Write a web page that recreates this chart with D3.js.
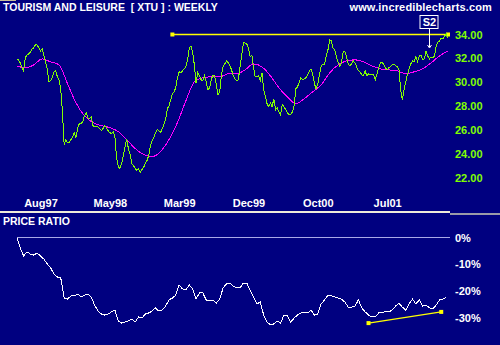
<!DOCTYPE html>
<html>
<head>
<meta charset="utf-8">
<script src="https://cdnjs.cloudflare.com/ajax/libs/d3/7.8.5/d3.min.js"></script>
<style>
body{margin:0;background:#000080;}
svg text{font-family:"Liberation Sans",Arial,sans-serif;font-weight:bold;}
</style>
</head>
<body>
<div id="chart"></div>
<script>
// weekly closes, first week is 9 May 1997
var startDate = new Date(1997, 4, 9);

var price = [
31.88,31.88,31.63,31.21,30.96,32.04,32.29,32.38,32.54,32.79,
32.88,33.13,33.13,32.88,32.63,32.79,32.29,31.71,31.13,30.04,
30.13,30.38,30.88,30.96,30.46,30.21,29.38,27.54,24.79,25.21,
24.96,24.96,25.21,25.46,25.79,25.38,26.21,26.54,26.54,26.71,
27.21,27.46,27.04,26.96,27.13,26.38,26.29,26.29,26.29,26.13,
25.96,26.13,26.38,26.21,25.96,25.79,25.71,25.88,25.46,23.71,
22.96,22.79,23.21,23.88,24.63,25.21,24.46,23.96,23.21,23.04,
22.79,22.63,22.79,22.46,22.71,22.88,23.21,23.46,23.88,24.71,
25.13,25.38,25.79,26.04,25.96,25.79,26.13,26.46,26.88,27.79,
28.04,28.54,29.04,29.21,29.54,30.38,30.88,30.79,30.96,31.13,
31.29,31.88,32.88,33.04,32.46,31.46,29.96,30.79,30.54,30.21,
30.13,30.54,30.04,29.38,29.54,30.21,30.63,30.54,29.79,28.96,
29.21,30.63,31.29,31.54,31.79,31.63,31.38,31.04,30.54,30.29,
30.13,30.21,31.29,32.29,33.29,33.29,33.21,32.88,32.13,32.29,
31.21,30.46,30.46,30.54,30.13,30.79,29.38,28.79,28.21,27.96,
28.29,27.96,28.63,27.71,27.88,27.54,27.29,28.13,27.96,27.71,
27.46,27.29,27.29,27.54,28.04,29.46,29.63,29.96,30.38,30.21,
30.29,30.38,30.63,30.96,31.13,30.71,29.88,29.46,29.88,30.63,
31.38,31.54,31.46,32.21,32.71,33.54,33.46,32.88,32.71,32.13,
31.71,31.38,31.63,32.54,32.54,32.13,31.54,31.38,31.54,31.79,
31.63,31.29,30.96,30.88,30.63,30.54,30.96,30.54,30.71,30.63,
30.63,30.63,30.21,30.71,31.21,31.63,31.71,31.46,31.21,31.04,
31.21,31.29,31.46,31.54,31.38,31.29,31.04,29.38,28.54,29.38,
30.04,30.63,31.13,31.54,31.79,31.71,32.13,31.71,32.21,32.29,
31.88,31.96,32.63,32.21,31.96,32.13,32.04,32.21,33.04,33.38,
33.46,33.71,33.63,33.88,34.04,33.71
];

// moving average (magenta), read every 5 weeks
var maStep = 5;
var priceMA = [
31.38,31.21,31.46,31.96,31.71,31.46,29.88,28.29,27.21,26.63,
26.38,26.21,25.88,25.21,24.46,23.96,23.79,24.21,25.21,26.63,
28.46,30.04,30.38,30.46,30.46,30.71,30.71,31.04,31.54,31.29,
30.54,29.54,28.79,28.21,28.63,29.21,29.79,30.79,31.46,31.79,
31.88,31.71,31.38,31.13,31.04,30.96,30.71,30.88,31.13,31.63,
32.21,32.63
];

// price ratio in %, read every 2 weeks
var ratioStep = 2;
var ratio = [
0,-3.9,-6.9,-5.4,-6.2,-6.6,-5.8,-6.9,-8.1,-9.9,
-11.4,-13.7,-14.8,-15.2,-22.7,-23.1,-21.9,-21.9,-21.2,-22.3,
-21.6,-21.2,-22.3,-25.3,-27.6,-28.7,-29.1,-28.7,-27.9,-27.2,
-31.3,-32.1,-31.7,-31.3,-30.6,-31.7,-29.8,-30.2,-28.7,-28.3,
-27.6,-26.4,-27.6,-27.2,-25.7,-23.4,-22.7,-21.6,-17.8,-19.3,
-19.7,-17.8,-19.3,-23.1,-20.8,-20.8,-23.4,-23.8,-23.4,-24.6,
-23.1,-18.9,-17.4,-17.1,-18.2,-18.9,-18.9,-17.1,-17.1,-19.7,
-22.3,-24.9,-24.2,-29.1,-31.7,-32.8,-32.4,-31.3,-32.1,-29.1,
-29.4,-31.7,-30.2,-29.1,-28.3,-28.3,-28.3,-27.2,-29.1,-28.7,
-24.9,-23.4,-21.6,-21.9,-22.3,-22.7,-23.1,-24.2,-26.1,-26.1,
-25.7,-23.4,-26.4,-27.9,-29.1,-29.8,-29.8,-28.3,-28.3,-27.6,
-27.9,-27.2,-25.7,-24.6,-26.1,-27.2,-24.9,-23.1,-24.9,-23.4,
-25.7,-25.3,-26.4,-26.8,-25.3,-23.4,-23.1,-22.3
];

var priceTicks = [22, 24, 26, 28, 30, 32, 34];
var ratioTicks = [0, -10, -20, -30];
var dateTicks = [new Date(1997, 7, 15), new Date(1998, 4, 29), new Date(1999, 2, 12),
                 new Date(1999, 11, 24), new Date(2000, 9, 6), new Date(2001, 6, 20)];

// yellow lines drawn on the chart (week index, value)
var resistanceWeeks = [92, 255];
var resistanceValues = [34, 34];
var trendWeeks = [208, 251];
var trendValues = [-32.1, -27.9];
var signalWeek = 244;
var signalLabel = "S2";

function weekDate(i){
    return d3.timeDay.offset(startDate, i * 7);
}

makeChart();

function makeChart(){
    var width = 500, height = 345;
    var green = "#80ff00", navy = "#000080";

    var svg = d3.select("#chart")
        .append("svg")
        .attr("width", width)
        .attr("height", height)
        .style("display", "block");

    svg.append("rect")
        .attr("width", width)
        .attr("height", height)
        .attr("fill", navy);

    var x = d3.scaleTime()
        .domain([weekDate(0), weekDate(price.length - 1)])
        .range([16.8, 448]);

    var yPrice = d3.scaleLinear()
        .domain([22, 34])
        .range([178, 34.5]);

    var yRatio = d3.scaleLinear()
        .domain([-30, 0])
        .range([317.5, 237.5]);

    // panel separator
    svg.append("rect").attr("x", 0).attr("y", 211).attr("width", 450).attr("height", 2).attr("fill", "#eeeada");
    svg.append("rect").attr("x", 450).attr("y", 213).attr("width", 50).attr("height", 2).attr("fill", "#9a9aa8");
    svg.append("rect").attr("x", 0).attr("y", 0).attr("width", 16).attr("height", 1).attr("fill", "#c8bf98");

    // titles
    svg.append("text").attr("x", 3).attr("y", 11).attr("fill", "#fff")
        .style("font-size", "10.5px")
        .attr("xml:space", "preserve")
        .text("TOURISM AND LEISURE  [ XTU ] : WEEKLY");
    svg.append("text").attr("x", 492).attr("y", 11).attr("fill", "#fff")
        .attr("text-anchor", "end")
        .style("font-size", "11px")
        .style("letter-spacing", "0.15px")
        .text("www.incrediblecharts.com");
    svg.append("text").attr("x", 3).attr("y", 225).attr("fill", "#fff")
        .style("font-size", "10.5px")
        .text("PRICE RATIO");

    // axes
    var xAxis = svg.append("g")
        .attr("transform", "translate(0,190)")
        .call(d3.axisBottom(x).tickValues(dateTicks).tickSize(0).tickPadding(9)
            .tickFormat(d3.timeFormat("%b%y")));
    xAxis.select(".domain").remove();
    xAxis.selectAll("text").attr("fill", "#fff").style("font-size", "11px").style("font-family", null);

    var pAxis = svg.append("g")
        .attr("transform", "translate(450,0)")
        .call(d3.axisRight(yPrice).tickValues(priceTicks).tickSize(0).tickPadding(5)
            .tickFormat(d3.format(".2f")));
    pAxis.select(".domain").remove();
    pAxis.selectAll("text").attr("fill", green).style("font-size", "11px").style("font-family", null);

    var rAxis = svg.append("g")
        .attr("transform", "translate(450,0)")
        .call(d3.axisRight(yRatio).tickValues(ratioTicks).tickSize(0).tickPadding(5)
            .tickFormat(function(d){ return d + "%"; }));
    rAxis.select(".domain").remove();
    rAxis.selectAll("text").attr("fill", "#fff").style("font-size", "11px").style("font-family", null);

    // 0% reference line
    svg.append("line")
        .attr("x1", x(weekDate(0))).attr("x2", 450)
        .attr("y1", yRatio(0)).attr("y2", yRatio(0))
        .attr("stroke", "#a8a8e8").attr("stroke-width", 1)
        .attr("shape-rendering", "crispEdges");

    // resistance line in price panel
    var resLine = d3.line()
        .x(function(d, i){ return x(weekDate(resistanceWeeks[i])); })
        .y(function(d){ return yPrice(d); });
    svg.append("path")
        .datum(resistanceValues)
        .attr("d", resLine)
        .attr("fill", "none").attr("stroke", "#ffff00").attr("stroke-width", 1.5);
    svg.selectAll(".resdot")
        .data(resistanceValues)
        .enter().append("rect")
        .attr("x", function(d, i){ return x(weekDate(resistanceWeeks[i])) - 2; })
        .attr("y", function(d){ return yPrice(d) - 2; })
        .attr("width", 4).attr("height", 4)
        .attr("fill", "#ffff00");

    // moving average
    var maLine = d3.line()
        .x(function(d, i){ return x(weekDate(i * maStep)); })
        .y(function(d){ return yPrice(d); })
        .curve(d3.curveMonotoneX);
    svg.append("path")
        .datum(priceMA)
        .attr("d", maLine)
        .attr("fill", "none").attr("stroke", "#ff00ff").attr("stroke-width", 1)
        .attr("shape-rendering", "crispEdges");

    // price
    var priceLine = d3.line()
        .x(function(d, i){ return x(weekDate(i)); })
        .y(function(d){ return yPrice(d); });
    svg.append("path")
        .datum(price)
        .attr("d", priceLine)
        .attr("fill", "none").attr("stroke", green).attr("stroke-width", 1)
        .attr("shape-rendering", "crispEdges");

    // signal box
    var sx = Math.round(x(weekDate(signalWeek))) + 0.5;
    svg.append("line")
        .attr("x1", sx).attr("x2", sx).attr("y1", 29).attr("y2", 47)
        .attr("stroke", "#fff").attr("stroke-width", 1);
    svg.append("path")
        .attr("d", "M" + (sx - 2) + ",45L" + sx + ",48L" + (sx + 2) + ",45")
        .attr("fill", "none").attr("stroke", "#fff").attr("stroke-width", 1);
    svg.append("rect")
        .attr("x", sx - 9.5).attr("y", 15.5).attr("width", 18).attr("height", 13)
        .attr("fill", navy).attr("stroke", "#fff").attr("stroke-width", 1);
    svg.append("text")
        .attr("x", sx).attr("y", 26)
        .attr("text-anchor", "middle").attr("fill", "#fff")
        .style("font-size", "11px")
        .text(signalLabel);

    // price ratio line
    var ratioLine = d3.line()
        .x(function(d, i){ return x(weekDate(i * ratioStep)); })
        .y(function(d){ return yRatio(d); });
    svg.append("path")
        .datum(ratio)
        .attr("d", ratioLine)
        .attr("fill", "none").attr("stroke", "#fff").attr("stroke-width", 1)
        .attr("shape-rendering", "crispEdges");

    // trend line under the ratio
    var trLine = d3.line()
        .x(function(d, i){ return x(weekDate(trendWeeks[i])); })
        .y(function(d){ return yRatio(d); });
    svg.append("path")
        .datum(trendValues)
        .attr("d", trLine)
        .attr("fill", "none").attr("stroke", "#ffff00").attr("stroke-width", 1.3);
    svg.selectAll(".trdot")
        .data(trendValues)
        .enter().append("rect")
        .attr("x", function(d, i){ return x(weekDate(trendWeeks[i])) - 2; })
        .attr("y", function(d){ return yRatio(d) - 2; })
        .attr("width", 4).attr("height", 4)
        .attr("fill", "#ffff00");
}
</script>
</body>
</html>
